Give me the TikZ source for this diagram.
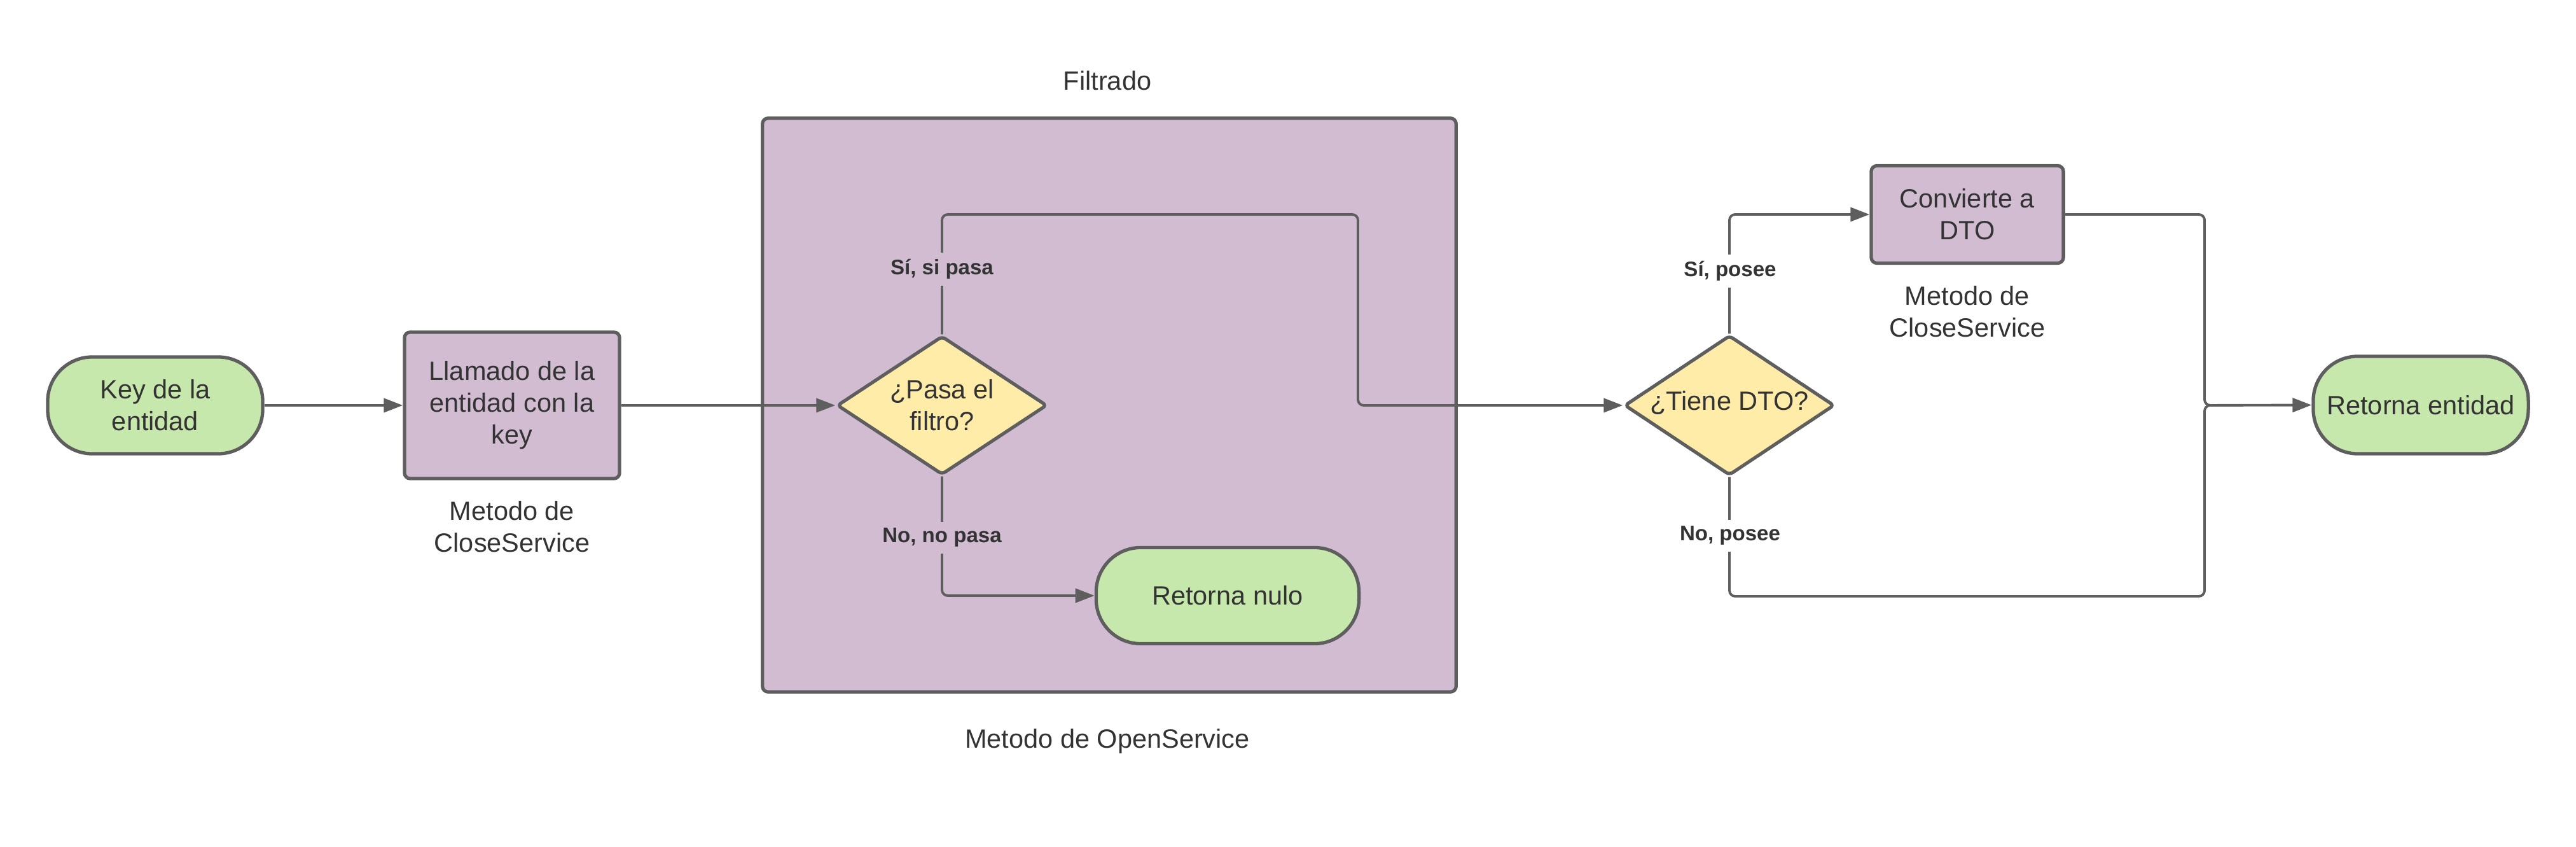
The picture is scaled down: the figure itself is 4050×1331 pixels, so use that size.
\documentclass[tikz,border=0pt]{standalone}
\usepackage{fontspec}
\setmainfont{Liberation Sans}
\usetikzlibrary{shapes.geometric,arrows.meta}
\definecolor{strk}{HTML}{5E5E5E}
\definecolor{txt}{HTML}{333333}
\definecolor{purp}{HTML}{D1BCD2}
\definecolor{grn}{HTML}{C7E8AC}
\definecolor{yel}{HTML}{FFECA9}
\tikzset{
  base/.style={draw=strk,line width=1.5pt,text=txt,font=\fontsize{11.8pt}{14.2pt}\selectfont,align=center,inner sep=0pt},
  termbox/.style={base,fill=grn,rounded corners=0.7cm},
  procbox/.style={base,fill=purp,rounded corners=0.09cm},
  decbox/.style={base,fill=yel,shape=diamond,rounded corners=0.06cm},
  conn/.style={draw=strk,line width=1.1pt,rounded corners=0.09cm},
  arr/.style={conn,-{Triangle[length=0.3cm,width=0.22cm]}},
  plain/.style={text=txt,font=\fontsize{11.8pt}{14.2pt}\selectfont,align=center,inner sep=0pt},
  lbl/.style={text=txt,font=\bfseries\fontsize{9.4pt}{11pt}\selectfont,inner sep=3pt},
}
\begin{document}
\begin{tikzpicture}[x=0.01cm,y=-0.01cm]
\useasboundingbox (0,0) rectangle (4050,1331);
% container
\node[procbox,minimum width=10.9cm,minimum height=9.01cm] (cont) at (1744,636.5) {};
\node[plain] (filt) at (1741,127) {Filtrado};
\node[plain] (open) at (1741,1165) {Metodo de OpenService};
% nodes
\node[termbox,minimum width=3.38cm,minimum height=1.52cm] (key) at (244,637) {Key de la\\entidad};
\node[procbox,minimum width=3.38cm,minimum height=2.3cm] (llam) at (805,637) {Llamado de la\\entidad con la\\key};
\node[plain] (m1) at (805,828) {Metodo de\\CloseService};
\node[decbox,minimum width=3.3cm,minimum height=2.18cm] (pasa) at (1481,637) {};
\node[plain] (pasat) at (1481,637) {¿Pasa el\\filtro?};
\node[termbox,minimum width=4.13cm,minimum height=1.51cm] (nulo) at (1930,936) {Retorna nulo};
\node[decbox,minimum width=3.3cm,minimum height=2.2cm] (tiene) at (2719,637) {};
\node[plain] (tienet) at (2719,633) {¿Tiene DTO?};
\node[procbox,minimum width=3.02cm,minimum height=1.53cm] (conv) at (3093,337) {Convierte a\\DTO};
\node[plain] (m2) at (3093,490) {Metodo de\\CloseService};
\node[termbox,minimum width=3.38cm,minimum height=1.53cm] (ret) at (3806,636.5) {Retorna entidad};
% coordinates
\coordinate (s1) at (1481,337);
\coordinate (s2) at (2135,337);
\coordinate (s3) at (2135,637);
\coordinate (j1) at (3466,337);
\coordinate (j2) at (3466,637);
\coordinate (j3) at (3466,937);
% connectors
\draw[arr] (key.east) -- (llam.west);
\draw[arr] (llam.east) -- (pasa.west);
\draw[arr] (pasa.north) -- (s1) -- (s2) -- (s3) -- (tiene.west);
\draw[arr] (pasa.south) |- (nulo.west);
\draw[arr] (tiene.north) |- (conv.west);
\draw[arr] (conv.east) -- (j1) -- (j2) -- (ret.west);
\draw[conn] (tiene.south) |- (j3) -- (j2) -- ([xshift=0.5cm]j2);
% labels
\node[lbl,fill=purp] (lsi) at (1481,423) {Sí, si pasa};
\node[lbl,fill=purp] (lno) at (1481,845) {No, no pasa};
\node[lbl,fill=white] (lsp) at (2720,426) {Sí, posee};
\node[lbl,fill=white] (lnp) at (2720,842) {No, posee};
\end{tikzpicture}
\end{document}
